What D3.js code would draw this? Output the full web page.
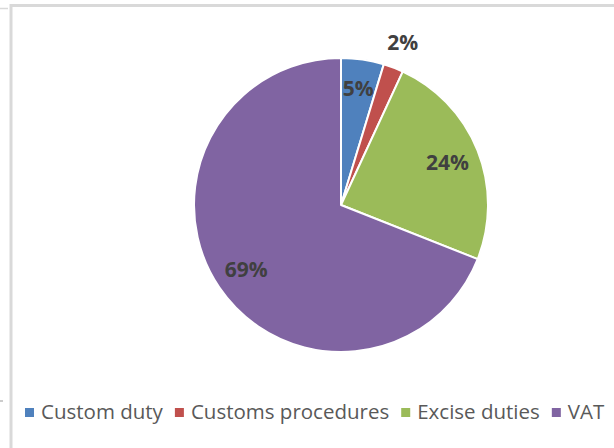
<!DOCTYPE html>
<html><head><meta charset="utf-8">
<script src="https://cdn.jsdelivr.net/npm/d3@7"></script>
<style>
html,body{margin:0;padding:0;background:#fff;}
svg{display:block;}
</style>
</head><body>
<svg id="chart" width="614" height="448"></svg>
<script>
const categories = ["Custom duty", "Customs procedures", "Excise duties", "VAT"];
const values = [4.7, 2.2, 24.1, 69.0];
const labels = ["5%", "2%", "24%", "69%"];
const colors = ["#4F81BD", "#C0504D", "#9BBB59", "#8064A2"];
const labelRadiusFactor = [0.8, 1.18, 0.78, 0.78];

const svg = d3.select("#chart");
const W = 614, H = 448;

// frame lines (cropped chart border)
svg.append("line").attr("x1", 11).attr("x2", 11).attr("y1", 4).attr("y2", H)
  .attr("stroke", "#d9d9d9").attr("stroke-width", 3);
svg.append("line").attr("x1", 10).attr("x2", W).attr("y1", 5.5).attr("y2", 5.5)
  .attr("stroke", "#d9d9d9").attr("stroke-width", 3);
svg.append("line").attr("x1", 0).attr("x2", 8).attr("y1", 8.5).attr("y2", 8.5)
  .attr("stroke", "#d9d9d9").attr("stroke-width", 1.5);
svg.append("line").attr("x1", 0).attr("x2", 3).attr("y1", 401).attr("y2", 401)
  .attr("stroke", "#999").attr("stroke-width", 1);

const cx = 341, cy = 205, r = 147;
const data = categories.map((c, i) => ({cat: c, value: values[i], label: labels[i], color: colors[i], i}));
const pie = d3.pie().value(d => d.value).sort(null);
const arcs = pie(data);
const arc = d3.arc().innerRadius(0).outerRadius(r);

const g = svg.append("g").attr("transform", `translate(${cx},${cy})`);
g.selectAll("path").data(arcs).join("path")
  .attr("d", arc)
  .attr("fill", d => d.data.color)
  .attr("stroke", "#fff").attr("stroke-width", 2).attr("stroke-linejoin", "round");

g.selectAll("text.lbl").data(arcs).join("text")
  .attr("class", "lbl")
  .attr("transform", d => {
    const a = (d.startAngle + d.endAngle) / 2;
    const rr = r * labelRadiusFactor[d.data.i];
    return `translate(${rr * Math.sin(a)},${-rr * Math.cos(a)})`;
  })
  .attr("text-anchor", "middle").attr("dy", "0.36em")
  .attr("font-family", "'Open Sans', 'Noto Sans', sans-serif")
  .attr("font-weight", "bold").attr("font-size", 21)
  .attr("fill", "#404040")
  .text(d => d.data.label);

// legend
const legend = svg.append("g").attr("transform", "translate(25,412)");
let x = 0;
data.forEach(d => {
  legend.append("rect").attr("x", x).attr("y", -4).attr("width", 9).attr("height", 9).attr("fill", d.color);
  const t = legend.append("text").attr("x", x + 16).attr("y", 0).attr("dy", "0.35em")
    .attr("font-family", "'Open Sans', 'Noto Sans', sans-serif")
    .attr("font-size", 20.5).attr("fill", "#595959").text(d.cat);
  x += 16 + t.node().getComputedTextLength() + 12;
});
</script>
</body></html>
